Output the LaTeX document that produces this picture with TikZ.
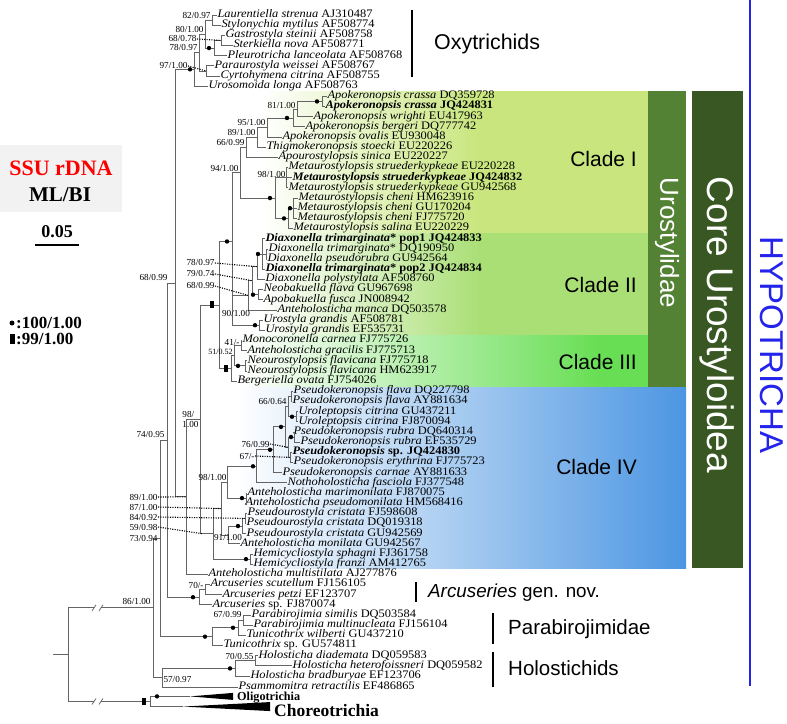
\documentclass[tikz,border=0pt]{standalone}
\usepackage{fontspec}
\setmainfont{Liberation Serif}
\setsansfont{Liberation Sans}
\usetikzlibrary{calc}

\definecolor{branch}{RGB}{100,100,100}
\definecolor{cladeone}{RGB}{200,230,125}
\definecolor{cladetwo}{RGB}{170,223,118}
\definecolor{cladethree}{RGB}{104,222,84}
\definecolor{cladefour}{RGB}{76,150,226}
\definecolor{urogreen}{RGB}{84,130,53}
\definecolor{coregreen}{RGB}{56,87,35}
\definecolor{hypoblue}{RGB}{35,35,235}
\definecolor{legendgray}{RGB}{242,242,242}

\newcommand\wide[1]{\scalebox{1.08}[1]{#1}}
\newcommand\taxon[2]{\wide{\textit{#1} #2}}
\newcommand\taxonb[2]{\wide{\textbf{\textit{#1} #2}}}

\begin{document}
\begin{tikzpicture}[x=1pt, y=-1pt,
    br/.style={draw=branch, line width=0.8pt},
    tip/.style={anchor=west, inner sep=0.3pt, text height=7pt, text depth=2.2pt,
      font=\fontsize{11.5}{11}\selectfont},
    sup/.style={inner sep=0.3pt, font=\fontsize{9.2}{9}\selectfont},
    dotline/.style={line width=1.1pt, dash pattern=on 1.1pt off 1.3pt},
    grpbar/.style={line width=2.6pt},
    grp/.style={anchor=west, inner sep=0pt, font=\sffamily\fontsize{20.5}{20}\selectfont},
    clade/.style={anchor=east, inner sep=0pt, font=\sffamily\fontsize{21}{21}\selectfont},
    vlabel/.style={rotate=-90, inner sep=0pt}]
  \def\Y#1{15+10.17*(#1)}
  \useasboundingbox (0,0) rectangle (787,723);

  \fill[left color=white, right color=cladeone] (262,91) rectangle (480,233);
  \fill[cladeone] (480,91) rectangle (648,233);
  \fill[left color=white, right color=cladetwo] (262,233) rectangle (480,335);
  \fill[cladetwo] (480,233) rectangle (648,335);
  \fill[left color=white, right color=cladethree] (240,335) rectangle (600,387);
  \fill[cladethree] (600,335) rectangle (648,387);
  \fill[left color=white, right color=cladefour] (236,387) rectangle (686,568);
  \fill[urogreen] (648,91) rectangle (686,387);
  \fill[coregreen] (692,91) rectangle (743,568);
  \draw[hypoblue, line width=2.6pt] (750,0) -- (750,686);

  \node[clade] (c1lbl) at (637,159) {Clade I};
  \node[clade] (c2lbl) at (637,285) {Clade II};
  \node[clade] (c3lbl) at (637,362) {Clade III};
  \node[clade] (c4lbl) at (637,467) {Clade IV};
  \node[vlabel, text=white, font=\sffamily\fontsize{26}{26}\selectfont] (urolbl) at (667,243) {Urostylidae};
  \node[vlabel, text=white, font=\sffamily\fontsize{37}{37}\selectfont] (corelbl) at (717,325) {Core Urostyloidea};
  \node[vlabel, text=hypoblue, font=\sffamily\fontsize{33}{33}\selectfont] (hypolbl) at (772,345) {HYPOTRICHA};

  \draw[grpbar] (412,10) -- (412,77);
  \node[grp, font=\sffamily\fontsize{21.4}{21}\selectfont] (oxylbl) at (434,44) {Oxytrichids};
  \draw[grpbar] (416,582) -- (416,602);
  \node[grp, font=\sffamily\fontsize{18.8}{18}\selectfont] (arclbl) at (428,593) {\textit{Arcuseries} gen. nov.};
  \draw[grpbar] (493,613) -- (493,644);
  \node[grp] (parlbl) at (508,629) {Parabirojimidae};
  \draw[grpbar] (493,652) -- (493,687);
  \node[grp] (hollbl) at (508,668) {Holostichids};

  \fill[legendgray] (0,145) rectangle (122,212);
  \node[text=red, font=\bfseries\fontsize{22}{22}\selectfont] (ssu) at (61,168) {SSU rDNA};
  \node[font=\bfseries\fontsize{21}{21}\selectfont] (mlbi) at (60,195) {ML/BI};
  \node[font=\bfseries\fontsize{18}{18}\selectfont] (scale) at (57,232) {0.05};
  \draw[line width=2.5pt] (35,245) -- (79,245);
  \fill (12,323) circle (2.5pt);
  \node[anchor=west, inner sep=0pt, font=\bfseries\fontsize{17}{17}\selectfont] (leg1) at (16,323) {:100/1.00};
  \fill (10,334) rectangle (15,344);
  \node[anchor=west, inner sep=0pt, font=\bfseries\fontsize{17}{17}\selectfont] (leg2) at (16,339) {:99/1.00};

  \node[tip] (t0) at (217,{\Y{0}}) {\taxon{Laurentiella strenua}{AJ310487}};
  \node[tip] (t1) at (221,{\Y{1}}) {\taxon{Stylonychia mytilus}{AF508774}};
  \node[tip] (t2) at (225,{\Y{2}}) {\taxon{Gastrostyla steinii}{AF508758}};
  \node[tip] (t3) at (233,{\Y{3}}) {\taxon{Sterkiella nova}{AF508771}};
  \node[tip] (t4) at (227,{\Y{4}}) {\taxon{Pleurotricha lanceolata}{AF508768}};
  \node[tip] (t5) at (214,{\Y{5}}) {\taxon{Paraurostyla weissei}{AF508767}};
  \node[tip] (t6) at (220,{\Y{6}}) {\taxon{Cyrtohymena citrina}{AF508755}};
  \node[tip] (t7) at (208,{\Y{7}}) {\taxon{Urosomoida longa}{AF508763}};
  \node[tip] (t8) at (327,{\Y{8}}) {\taxon{Apokeronopsis crassa}{DQ359728}};
  \node[tip] (t9) at (325,{\Y{9}}) {\taxonb{Apokeronopsis crassa}{JQ424831}};
  \node[tip] (t10) at (313,{\Y{10}}) {\taxon{Apokeronopsis wrighti}{EU417963}};
  \node[tip] (t11) at (305,{\Y{11}}) {\taxon{Apokeronopsis bergeri}{DQ777742}};
  \node[tip] (t12) at (282,{\Y{12}}) {\taxon{Apokeronopsis ovalis}{EU930048}};
  \node[tip] (t13) at (266,{\Y{13}}) {\taxon{Thigmokeronopsis stoecki}{EU220226}};
  \node[tip] (t14) at (278,{\Y{14}}) {\taxon{Apourostylopsis sinica}{EU220227}};
  \node[tip] (t15) at (288,{\Y{15}}) {\taxon{Metaurostylopsis struederkypkeae}{EU220228}};
  \node[tip] (t16) at (292,{\Y{16}}) {\taxonb{Metaurostylopsis struederkypkeae}{JQ424832}};
  \node[tip] (t17) at (288,{\Y{17}}) {\taxon{Metaurostylopsis struederkypkeae}{GU942568}};
  \node[tip] (t18) at (298,{\Y{18}}) {\taxon{Metaurostylopsis cheni}{HM623916}};
  \node[tip] (t19) at (297,{\Y{19}}) {\taxon{Metaurostylopsis cheni}{GU170204}};
  \node[tip] (t20) at (297,{\Y{20}}) {\taxon{Metaurostylopsis cheni}{FJ775720}};
  \node[tip] (t21) at (293,{\Y{21}}) {\taxon{Metaurostylopsis salina}{EU220229}};
  \node[tip] (t22) at (265,{\Y{22}}) {\wide{\textbf{\textit{Diaxonella trimarginata}* pop1 JQ424833}}};
  \node[tip] (t23) at (268,{\Y{23}}) {\wide{\textit{Diaxonella trimarginata}* DQ190950}};
  \node[tip] (t24) at (267,{\Y{24}}) {\taxon{Diaxonella pseudorubra}{GU942564}};
  \node[tip] (t25) at (265,{\Y{25}}) {\wide{\textbf{\textit{Diaxonella trimarginata}* pop2 JQ424834}}};
  \node[tip] (t26) at (265,{\Y{26}}) {\taxon{Diaxonella polystylata}{AF508760}};
  \node[tip] (t27) at (263,{\Y{27}}) {\taxon{Neobakuella flava}{GU967698}};
  \node[tip] (t28) at (263,{\Y{28}}) {\taxon{Apobakuella fusca}{JN008942}};
  \node[tip] (t29) at (277,{\Y{29}}) {\taxon{Anteholosticha manca}{DQ503578}};
  \node[tip] (t30) at (263,{\Y{30}}) {\taxon{Urostyla grandis}{AF508781}};
  \node[tip] (t31) at (265,{\Y{31}}) {\taxon{Urostyla grandis}{EF535731}};
  \node[tip] (t32) at (242,{\Y{32}}) {\taxon{Monocoronella carnea}{FJ775726}};
  \node[tip] (t33) at (247,{\Y{33}}) {\taxon{Anteholosticha gracilis}{FJ775713}};
  \node[tip] (t34) at (247,{\Y{34}}) {\taxon{Neourostylopsis flavicana}{FJ775718}};
  \node[tip] (t35) at (247,{\Y{35}}) {\taxon{Neourostylopsis flavicana}{HM623917}};
  \node[tip] (t36) at (237,{\Y{36}}) {\taxon{Bergeriella ovata}{FJ754026}};
  \node[tip] (t37) at (293,{\Y{37}}) {\taxon{Pseudokeronopsis flava}{DQ227798}};
  \node[tip] (t38) at (292,{\Y{38}}) {\taxon{Pseudokeronopsis flava}{AY881634}};
  \node[tip] (t39) at (298,{\Y{39}}) {\taxon{Uroleptopsis citrina}{GU437211}};
  \node[tip] (t40) at (298,{\Y{40}}) {\taxon{Uroleptopsis citrina}{FJ870094}};
  \node[tip] (t41) at (293,{\Y{41}}) {\taxon{Pseudokeronopsis rubra}{DQ640314}};
  \node[tip] (t42) at (300,{\Y{42}}) {\taxon{Pseudokeronopsis rubra}{EF535729}};
  \node[tip] (t43) at (292,{\Y{43}}) {\taxonb{Pseudokeronopsis}{sp. JQ424830}};
  \node[tip] (t44) at (293,{\Y{44}}) {\taxon{Pseudokeronopsis erythrina}{FJ775723}};
  \node[tip] (t45) at (282,{\Y{45}}) {\taxon{Pseudokeronopsis carnae}{AY881633}};
  \node[tip] (t46) at (287,{\Y{46}}) {\taxon{Nothoholosticha fasciola}{FJ377548}};
  \node[tip] (t47) at (247,{\Y{47}}) {\taxon{Anteholosticha marimonilata}{FJ870075}};
  \node[tip] (t48) at (245,{\Y{48}}) {\taxon{Anteholosticha pseudomonilata}{HM568416}};
  \node[tip] (t49) at (247,{\Y{49}}) {\taxon{Pseudourostyla cristata}{FJ598608}};
  \node[tip] (t50) at (246,{\Y{50}}) {\taxon{Pseudourostyla cristata}{DQ019318}};
  \node[tip] (t51) at (246,{\Y{51}}) {\taxon{Pseudourostyla cristata}{GU942569}};
  \node[tip] (t52) at (240,{\Y{52}}) {\taxon{Anteholosticha monilata}{GU942567}};
  \node[tip] (t53) at (253,{\Y{53}}) {\taxon{Hemicycliostyla sphagni}{FJ361758}};
  \node[tip] (t54) at (253,{\Y{54}}) {\taxon{Hemicycliostyla franzi}{AM412765}};
  \node[tip] (t55) at (208,{\Y{55}}) {\taxon{Anteholosticha multistilata}{AJ277876}};
  \node[tip] (t56) at (210,{\Y{56}}) {\taxon{Arcuseries scutellum}{FJ156105}};
  \node[tip] (t57) at (222,{\Y{57}}) {\taxon{Arcuseries petzi}{EF123707}};
  \node[tip] (t58) at (212,{\Y{58}}) {\taxon{Arcuseries}{sp. FJ870074}};
  \node[tip] (t59) at (251,{\Y{59}}) {\taxon{Parabirojimia similis}{DQ503584}};
  \node[tip] (t60) at (253,{\Y{60}}) {\taxon{Parabirojimia multinucleata}{FJ156104}};
  \node[tip] (t61) at (246,{\Y{61}}) {\taxon{Tunicothrix wilberti}{GU437210}};
  \node[tip] (t62) at (223,{\Y{62}}) {\taxon{Tunicothrix}{sp. GU574811}};
  \node[tip] (t63) at (258,{\Y{63}}) {\taxon{Holosticha diademata}{DQ059583}};
  \node[tip] (t64) at (292,{\Y{64}}) {\taxon{Holosticha heterofoissneri}{DQ059582}};
  \node[tip] (t65) at (250,{\Y{65}+0.3}) {\taxon{Holosticha bradburyae}{EF123706}};
  \node[tip] (t66) at (238,{\Y{66}+1}) {\taxon{Psammomitra retractilis}{EF486865}};

  \coordinate (nLS) at (212,{\Y{0.5}});
  \coordinate (nGS) at (221,{\Y{2.5}});
  \coordinate (nGSP) at (214,{\Y{3.25}});
  \coordinate (n80) at (205,{\Y{1.875}});
  \coordinate (nPC) at (206,{\Y{5.5}});
  \coordinate (n78) at (199,{\Y{3.6875}});
  \coordinate (nOxy) at (194,{\Y{5.34375}});
  \coordinate (nAC) at (322,{\Y{8.5}});
  \coordinate (n81) at (297,{\Y{9.25}});
  \coordinate (nBer) at (293,{\Y{10.125}});
  \coordinate (n95) at (267,{\Y{11.0625}});
  \coordinate (n89) at (257,{\Y{12.03125}});
  \coordinate (n66) at (246,{\Y{13.0156}});
  \coordinate (nMS) at (286,{\Y{16}});
  \coordinate (nCH) at (293,{\Y{19}});
  \coordinate (nMC) at (288,{\Y{20}});
  \coordinate (nMeta) at (275,{\Y{18}});
  \coordinate (nC1) at (240,{\Y{15.5078}});
  \coordinate (nDQ) at (266,{\Y{23.5}});
  \coordinate (nDA) at (262,{\Y{23.5}});
  \coordinate (nD79) at (257,{\Y{24.75}});
  \coordinate (nNB) at (258,{\Y{27.5}});
  \coordinate (nD68) at (252,{\Y{26.125}});
  \coordinate (nMan) at (248,{\Y{27.5625}});
  \coordinate (nUG) at (259,{\Y{30.5}});
  \coordinate (nCII) at (232,{\Y{29.0313}});
  \coordinate (n12) at (232,{\Y{22.2695}});
  \coordinate (nMG) at (241,{\Y{32.5}});
  \coordinate (nNeo) at (245,{\Y{34.5}});
  \coordinate (n51) at (234,{\Y{33.5}});
  \coordinate (nC3) at (231,{\Y{34.75}});
  \coordinate (nU) at (219,{\Y{28.51}});
  \coordinate (nPF) at (291,{\Y{37.5}});
  \coordinate (nUro) at (296,{\Y{39.5}});
  \coordinate (nP66) at (288,{\Y{38.5}});
  \coordinate (nRub) at (294,{\Y{41.5}});
  \coordinate (nSE) at (290,{\Y{43.5}});
  \coordinate (n76) at (288,{\Y{42.5}});
  \coordinate (nX) at (285,{\Y{40.5}});
  \coordinate (nY) at (273,{\Y{42.75}});
  \coordinate (nZ) at (256,{\Y{44.375}});
  \coordinate (nAM) at (246,{\Y{47.5}});
  \coordinate (n98) at (227,{\Y{45.9375}});
  \coordinate (nP2) at (245,{\Y{49.5}});
  \coordinate (nP3) at (242,{\Y{50.25}});
  \coordinate (n91) at (228,{\Y{51.125}});
  \coordinate (n87) at (221,{\Y{48.53}});
  \coordinate (nHem) at (250,{\Y{53.5}});
  \coordinate (nCIV) at (213,{\Y{51.016}});
  \coordinate (nF) at (200,{\Y{39.763}});
  \coordinate (nE) at (186,{\Y{47.38}});
  \coordinate (nD) at (175,{\Y{26.36}});
  \coordinate (nAS) at (205,{\Y{56.5}});
  \coordinate (nArc) at (199,{\Y{57.25}});
  \coordinate (nC) at (167,{\Y{41.805}});
  \coordinate (nPM) at (243,{\Y{59.5}});
  \coordinate (nPMT) at (238,{\Y{60.25}});
  \coordinate (nPar) at (212,{\Y{61.125}});
  \coordinate (nBB) at (160,{\Y{51.465}});
  \coordinate (nHD) at (255,{\Y{63.5}});
  \coordinate (nH) at (235,{\Y{64.25}});
  \coordinate (nHP) at (162,{\Y{65.125}});
  \coordinate (nA) at (153,{\Y{58.295}});
  \coordinate (nOC) at (150,{\Y{67.5}});
  \coordinate (root) at (68,{\Y{62.8975}});
  \coordinate (stem) at (53,{\Y{62.8975}});
  \coordinate (bkA1) at (94,{\Y{58.295}});
  \coordinate (bkA2) at (101,{\Y{58.295}});
  \coordinate (bkB1) at (94,{\Y{67.5}});
  \coordinate (bkB2) at (101,{\Y{67.5}});
  \coordinate (oli) at (190,{\Y{67}});
  \coordinate (cho) at (183,{\Y{68}});

  \draw[br] (nLS) |- (t0.west) (nLS) |- (t1.west);
  \draw[br] (nGS) |- (t2.west) (nGS) |- (t3.west);
  \draw[br] (nGSP) |- (nGS) (nGSP) |- (t4.west);
  \draw[br] (n80) |- (nLS) (n80) |- (nGSP);
  \draw[br] (nPC) |- (t5.west) (nPC) |- (t6.west);
  \draw[br] (n78) |- (n80) (n78) |- (nPC);
  \draw[br] (nOxy) |- (n78) (nOxy) |- (t7.west);
  \draw[br] (nAC) |- (t8.west) (nAC) |- (t9.west);
  \draw[br] (n81) |- (nAC) (n81) |- (t10.west);
  \draw[br] (nBer) |- (n81) (nBer) |- (t11.west);
  \draw[br] (n95) |- (nBer) (n95) |- (t12.west);
  \draw[br] (n89) |- (n95) (n89) |- (t13.west);
  \draw[br] (n66) |- (n89) (n66) |- (t14.west);
  \draw[br] (nMS) |- (t15.west) (nMS) |- (t16.west) (nMS) |- (t17.west);
  \draw[br] (nCH) |- (t18.west) (nCH) |- (t19.west) (nCH) |- (t20.west);
  \draw[br] (nMC) |- (nCH) (nMC) |- (t21.west);
  \draw[br] (nMeta) |- (nMS) (nMeta) |- (nMC);
  \draw[br] (nC1) |- (n66) (nC1) |- (nMeta);
  \draw[br] (nDQ) |- (t23.west) (nDQ) |- (t24.west);
  \draw[br] (nDA) |- (t22.west) (nDA) |- (nDQ) (nDA) |- (t25.west);
  \draw[br] (nD79) |- (nDA) (nD79) |- (t26.west);
  \draw[br] (nNB) |- (t27.west) (nNB) |- (t28.west);
  \draw[br] (nD68) |- (nD79) (nD68) |- (nNB);
  \draw[br] (nMan) |- (nD68) (nMan) |- (t29.west);
  \draw[br] (nUG) |- (t30.west) (nUG) |- (t31.west);
  \draw[br] (nCII) |- (nMan) (nCII) |- (nUG);
  \draw[br] (n12) |- (nC1) (n12) |- (nCII);
  \draw[br] (nMG) |- (t32.west) (nMG) |- (t33.west);
  \draw[br] (nNeo) |- (t34.west) (nNeo) |- (t35.west);
  \draw[br] (n51) |- (nMG) (n51) |- (nNeo);
  \draw[br] (nC3) |- (n51) (nC3) |- (t36.west);
  \draw[br] (nU) |- (n12) (nU) |- (nC3);
  \draw[br] (nPF) |- (t37.west) (nPF) |- (t38.west);
  \draw[br] (nUro) |- (t39.west) (nUro) |- (t40.west);
  \draw[br] (nP66) |- (nPF) (nP66) |- (nUro);
  \draw[br] (nRub) |- (t41.west) (nRub) |- (t42.west);
  \draw[br] (nSE) |- (t43.west) (nSE) |- (t44.west);
  \draw[br] (n76) |- (nRub) (n76) |- (nSE);
  \draw[br] (nX) |- (nP66) (nX) |- (n76);
  \draw[br] (nY) |- (nX) (nY) |- (t45.west);
  \draw[br] (nZ) |- (nY) (nZ) |- (t46.west);
  \draw[br] (nAM) |- (t47.west) (nAM) |- (t48.west);
  \draw[br] (n98) |- (nZ) (n98) |- (nAM);
  \draw[br] (nP2) |- (t49.west) (nP2) |- (t50.west);
  \draw[br] (nP3) |- (nP2) (nP3) |- (t51.west);
  \draw[br] (n91) |- (nP3) (n91) |- (t52.west);
  \draw[br] (n87) |- (n98) (n87) |- (n91);
  \draw[br] (nHem) |- (t53.west) (nHem) |- (t54.west);
  \draw[br] (nCIV) |- (n87) (nCIV) |- (nHem);
  \draw[br] (nF) |- (nU) (nF) |- (nCIV);
  \draw[br] (nE) |- (nF) (nE) |- (t55.west);
  \draw[br] (nD) |- (nOxy) (nD) |- (nE);
  \draw[br] (nAS) |- (t56.west) (nAS) |- (t57.west);
  \draw[br] (nArc) |- (nAS) (nArc) |- (t58.west);
  \draw[br] (nC) |- (nD) (nC) |- (nArc);
  \draw[br] (nPM) |- (t59.west) (nPM) |- (t60.west);
  \draw[br] (nPMT) |- (nPM) (nPMT) |- (t61.west);
  \draw[br] (nPar) |- (nPMT) (nPar) |- (t62.west);
  \draw[br] (nBB) |- (nC) (nBB) |- (nPar);
  \draw[br] (nHD) |- (t63.west) (nHD) |- (t64.west);
  \draw[br] (nH) |- (nHD) (nH) |- (t65.west);
  \draw[br] (nHP) |- (nH) (nHP) |- (t66.west);
  \draw[br] (nA) |- (nBB) (nA) |- (nHP);
  \draw[br] (stem) -- (root);
  \draw[br] (root) |- (bkA1) (bkA2) -- (nA);
  \draw[br] (root) |- (bkB1) (bkB2) -- (nOC);
  \draw[br] ([shift={(-2,3)}]bkA1) -- ([shift={(2,-3)}]bkA1) ([shift={(-2,3)}]bkA2) -- ([shift={(2,-3)}]bkA2);
  \draw[br] ([shift={(-2,3)}]bkB1) -- ([shift={(2,-3)}]bkB1) ([shift={(-2,3)}]bkB2) -- ([shift={(2,-3)}]bkB2);
  \draw[br] (nOC) |- (oli) (nOC) |- (cho);
  \fill (oli) -- ($(oli)+(43,-3.5)$) -- ($(oli)+(43,3.5)$) -- cycle;
  \fill (cho) -- ($(cho)+(87,-4.5)$) -- ($(cho)+(87,4.5)$) -- cycle;
  \node[anchor=west, inner sep=0pt, font=\bfseries\fontsize{12.2}{12}\selectfont] (oligo) at (237,{\Y{67}+1.6}) {Oligotrichia};
  \node[anchor=west, inner sep=0pt, font=\bfseries\fontsize{17.5}{17}\selectfont] (choreo) at (274,{\Y{68}+3.8}) {Choreotrichia};

  \foreach \c/\s in {nGSP/5, nOxy/4, nAC/5, nBer/6, nMeta/5, nCH/3, nMC/4, n12/5, nDA/4, nNB/5,
      nUG/4, nNeo/7, nUro/4, nRub/3, nX/4, nY/3, nZ/3, nAM/4, nP3/4, nHem/4, nArc/6, nPMT/5,
      nPar/7, nH/5}
    \fill ([xshift=-\s pt]\c) circle (2.2pt);
  \fill ([xshift=-33pt]oli) circle (2.2pt);
  \foreach \c/\s in {nU/7, nC3/5, nOC/6}
    \fill ($([xshift=-\s pt]\c)+(-1.7,-3.5)$) rectangle ($([xshift=-\s pt]\c)+(1.7,3.5)$);

  \node[sup, anchor=east] (s8297) at (211,15.5) {82/0.97};
  \node[sup, anchor=east] (s8010) at (204,29.5) {80/1.00};
  \node[sup, anchor=east] (s6878) at (197,39) {68/0.78};
  \node[sup, anchor=east] (s7897) at (198,48) {78/0.97};
  \node[sup, anchor=east] (s9710) at (188,66) {97/1.00};
  \node[sup, anchor=east] (s8110) at (296,106) {81/1.00};
  \node[sup, anchor=east] (s9510) at (266,123) {95/1.00};
  \node[sup, anchor=east] (s8910) at (256,133) {89/1.00};
  \node[sup, anchor=east] (s6699) at (245,143) {66/0.99};
  \node[sup, anchor=east] (s9410) at (239,169) {94/1.00};
  \node[sup, anchor=east] (s9810) at (286,175) {98/1.00};
  \node[sup, anchor=east] (s7897b) at (215,263) {78/0.97};
  \node[sup, anchor=east] (s7974) at (215,274) {79/0.74};
  \node[sup, anchor=east] (s6899b) at (215,286) {68/0.99};
  \node[sup] (s9010) at (236,314) {90/1.00};
  \node[sup, anchor=east] (s41) at (240,343) {41/-};
  \node[sup, anchor=east, font=\fontsize{8}{8}\selectfont] (s5152) at (233,352) {51/0.52};
  \node[sup, anchor=east] (s6664) at (287,402) {66/0.64};
  \node[sup, anchor=east, align=left, font=\fontsize{9.2}{10}\selectfont] (s98f) at (199,{\Y{39.763}}) {98/\\1.00};
  \node[sup, anchor=east] (s7699) at (270,444) {76/0.99};
  \node[sup, anchor=east] (s67) at (255,456) {67/-};
  \node[sup, anchor=east] (s9810b) at (227,477) {98/1.00};
  \node[sup] (s9110) at (228,537) {91/1.00};
  \node[sup, anchor=east] (s7495) at (165,434) {74/0.95};
  \node[sup, anchor=east] (s6899) at (168,278) {68/0.99};
  \node[sup, anchor=east] (s8910b) at (158,497) {89/1.00};
  \node[sup, anchor=east] (s8710) at (158,507) {87/1.00};
  \node[sup, anchor=east] (s8492) at (158,517) {84/0.92};
  \node[sup, anchor=east] (s5998) at (158,527) {59/0.98};
  \node[sup, anchor=east] (s7394) at (158,538) {73/0.94};
  \node[sup, anchor=south east] (s8610) at (151,605) {86/1.00};
  \node[sup, anchor=west] (s5797) at (163,679) {57/0.97};
  \node[sup, anchor=east] (s70) at (204,585) {70/-};
  \node[sup, anchor=east] (s6799) at (242,614) {67/0.99};
  \node[sup, anchor=east] (s7055) at (254,656) {70/0.55};

  \draw[dotline] (s6878.east) -- (nGS);
  \draw[dotline] (s9710.east) -- (nPC);
  \draw[dotline] (s7897b.east) -- (nD79);
  \draw[dotline] (s7974.east) -- (nD68);
  \draw[dotline] (s6899b.east) -- (nMan);
  \draw[dotline] (s7699.east) -- (n76);
  \draw[dotline] (s67.east) -- (nSE);
  \draw[dotline] (s8910b.east) -- (nE);
  \draw[dotline] (s8710.east) -- (n87);
  \draw[dotline] (s8492.east) -- (nP2);
  \draw[dotline] (s5998.east) -- ($(nF |- nCIV)+(3,0)$);
\end{tikzpicture}
\end{document}
